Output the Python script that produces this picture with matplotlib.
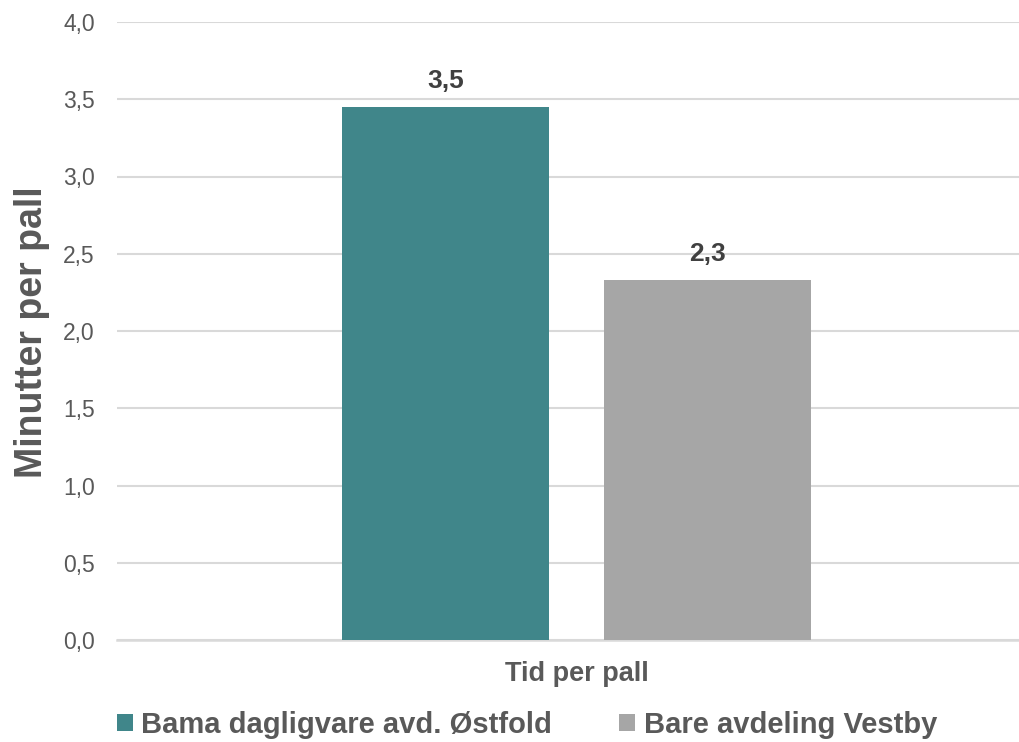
import matplotlib
matplotlib.use("Agg")
import matplotlib.pyplot as plt
from matplotlib.patches import Patch

plt.rcParams['font.family'] = ['Liberation Sans', 'DejaVu Sans']

category = "Tid per pall"
series_names = ["Bama dagligvare avd. Østfold", "Bare avdeling Vestby"]
series_values = [3.45, 2.33]
series_colors = ["#40868A", "#A6A6A6"]
y_ticks = [0.0, 0.5, 1.0, 1.5, 2.0, 2.5, 3.0, 3.5, 4.0]

W, H = 1019, 742
fig = plt.figure(figsize=(W / 100, H / 100), dpi=100)
ax = fig.add_axes([117 / W, 102 / H, 919 / W, 618 / H])

bar_w = 0.2252
offsets = [-0.1425, 0.1425]
for name, val, col, off in zip(series_names, series_values, series_colors, offsets):
    ax.bar(off, val, width=bar_w, color=col, zorder=3, label=name)
    ax.annotate(f"{val:.1f}".replace(".", ","), xy=(off, val), xytext=(0, 10),
                textcoords="offset points", ha="center", va="bottom",
                fontsize=19, fontweight="bold", color="#404040")

ax.set_xlim(-0.5, 0.5)
ax.set_ylim(0, 4.0)
ax.set_yticks(y_ticks)
ax.set_yticklabels([f"{t:.1f}".replace(".", ",") for t in y_ticks])
ax.set_xticks([0])
ax.set_xticklabels([category], fontweight="bold")
ax.tick_params(axis="y", length=0, pad=16, labelsize=16.5, labelcolor="#595959")
ax.tick_params(axis="x", length=0, pad=15, labelsize=19.5, labelcolor="#595959")

ax.grid(axis="y", color="#D9D9D9", linewidth=1.5, zorder=0)
for s in ["top", "right", "left"]:
    ax.spines[s].set_visible(False)
ax.spines["bottom"].set_color("#D9D9D9")
ax.spines["bottom"].set_linewidth(1.8)

fig.text(32 / W, 1 - 332 / H, "Minutter per pall", rotation=90, ha="center",
         va="center", fontsize=27, fontweight="bold", color="#595959")

handles = [Patch(facecolor=c, edgecolor="none") for c in series_colors]
fig.legend(handles, series_names, loc="center", bbox_to_anchor=(527 / W, 1 - 725 / H),
           ncol=2, frameon=False, handlelength=0.55, handleheight=0.55,
           handletextpad=0.3, columnspacing=2.3,
           prop={"size": 21, "weight": "bold"}, labelcolor="#595959")

fig.savefig("out.png", dpi=100)
